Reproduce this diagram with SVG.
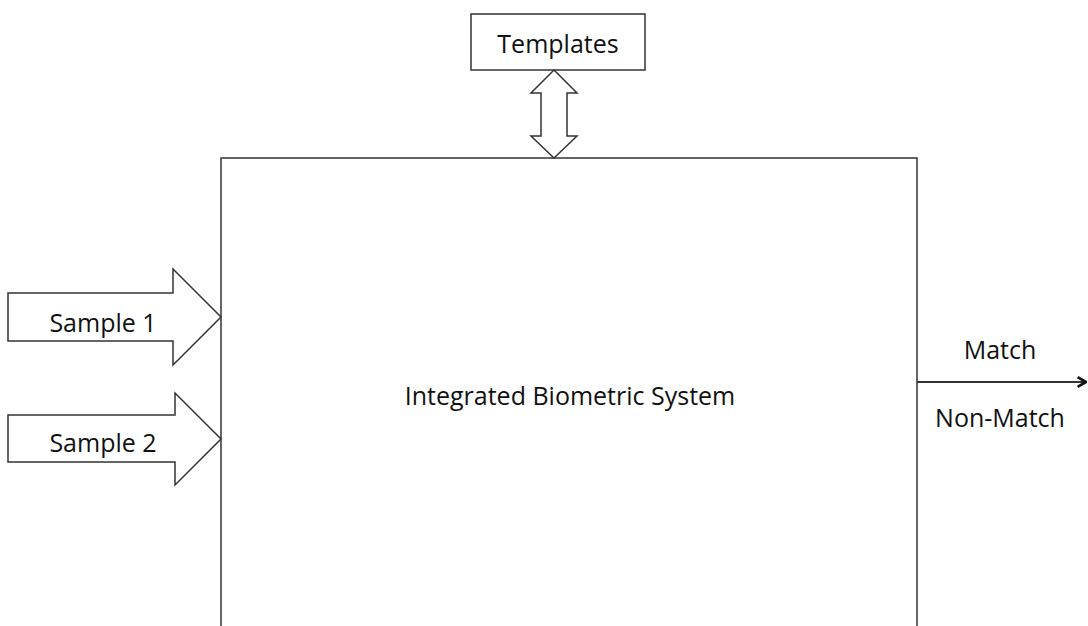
<svg xmlns="http://www.w3.org/2000/svg" width="1088" height="626" viewBox="0 0 1088 626">
<defs>
<style>
.s{fill:#fff;stroke:#333;stroke-width:1.5}
.t{font-family:"Open Sans","Liberation Sans",sans-serif;font-size:25px;fill:#111;text-anchor:middle}
.c{fill:none;stroke:#333;stroke-width:2}
</style>
<marker id="open" viewBox="0 0 10 10" refX="9" refY="5" markerWidth="12" markerHeight="12" markerUnits="userSpaceOnUse" orient="auto">
<path d="M2,1 L9,5 L2,9" fill="none" stroke="#111" stroke-width="2.2"/>
</marker>
</defs>
<rect width="1088" height="626" fill="#fff"/>
<g id="system">
<path class="s" d="M221,630 L221,158 L917,158 L917,630"/>
<text class="t" x="570" y="405">Integrated Biometric System</text>
</g>
<g id="templates">
<rect class="s" x="471" y="14" width="174" height="56"/>
<text class="t" x="558" y="53">Templates</text>
</g>
<g id="sample1">
<path class="s" d="M8,293 L173,293 L173,269 L221,317 L173,365 L173,341 L8,341 Z"/>
<text class="t" x="103" y="332">Sample 1</text>
</g>
<g id="sample2">
<path class="s" d="M8,415 L175,415 L175,393 L221,439 L175,485 L175,462 L8,462 Z"/>
<text class="t" x="103" y="452">Sample 2</text>
</g>
<g id="connectors">
<path class="s" d="M554,70 L577,93 L567,93 L567,136 L577,136 L554,158 L531,136 L541,136 L541,93 L531,93 Z"/>
<line class="c" x1="917" y1="382" x2="1086" y2="382" marker-end="url(#open)"/>
<text class="t" x="1000" y="359">Match</text>
<text class="t" x="1000" y="427">Non-Match</text>
</g>
</svg>
